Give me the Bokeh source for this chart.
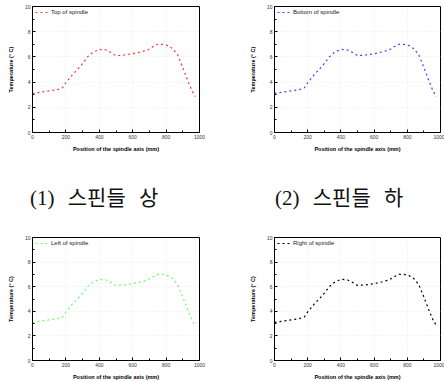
from bokeh.plotting import figure
from bokeh.layouts import column, row
from bokeh.models import FixedTicker, Div, Range1d
from bokeh.embed import file_html
from bokeh.resources import INLINE

# ---- data ----
position = [0, 50, 100, 150, 180, 200, 240, 290, 330, 360, 400, 440, 470, 500,
            550, 600, 650, 690, 720, 750, 780, 810, 840, 870, 900, 930, 955, 975]
temp_top = [3.1, 3.2, 3.3, 3.4, 3.55, 3.95, 4.6, 5.3, 6.0, 6.35, 6.6, 6.55, 6.35, 6.1,
            6.15, 6.25, 6.4, 6.55, 6.8, 7.0, 7.0, 6.9, 6.65, 6.15, 5.15, 4.1, 3.3, 2.85]
temp_bottom = [3.1, 3.2, 3.3, 3.4, 3.55, 3.95, 4.6, 5.3, 6.0, 6.35, 6.6, 6.55, 6.35, 6.1,
               6.15, 6.25, 6.4, 6.55, 6.8, 7.0, 7.0, 6.9, 6.65, 6.15, 5.15, 4.1, 3.3, 2.85]
temp_left = [3.1, 3.2, 3.3, 3.4, 3.55, 3.95, 4.6, 5.3, 6.0, 6.35, 6.6, 6.55, 6.35, 6.1,
             6.15, 6.25, 6.4, 6.55, 6.8, 7.0, 7.0, 6.9, 6.65, 6.15, 5.15, 4.1, 3.3, 2.85]
temp_right = [3.1, 3.2, 3.3, 3.4, 3.55, 3.95, 4.6, 5.3, 6.0, 6.35, 6.6, 6.55, 6.35, 6.1,
              6.15, 6.25, 6.4, 6.55, 6.8, 7.0, 7.0, 6.9, 6.65, 6.15, 5.15, 4.1, 3.3, 2.85]
series_labels = ["Top of spindle", "Bottom of spindle", "Left of spindle", "Right of spindle"]
series_colors = ["#ff3333", "#4040ff", "#66ff66", "#000000"]
x_ticks = [0, 200, 400, 600, 800, 1000]
x_minor = [100, 300, 500, 700, 900]
y_ticks = [0, 2, 4, 6, 8, 10]
y_minor = [1, 3, 5, 7, 9]
captions = ["(1) 스핀들 상", "(2) 스핀들 하"]

FONT = "Liberation Sans"


def make_panel(xs, ys, label, color, width, height, bl, br, bt, bb):
    p = figure(width=width, height=height, output_backend="svg", toolbar_location=None,
               x_range=Range1d(0, 1000), y_range=Range1d(0, 10),
               min_border_left=bl, min_border_right=br, min_border_top=bt,
               min_border_bottom=bb)
    p.outline_line_color = "black"
    p.outline_line_width = 1
    p.background_fill_color = "white"
    p.border_fill_color = "white"
    p.line(xs, ys, line_color=color, line_width=1.2, line_dash="2 3", legend_label=label)

    p.xaxis.ticker = FixedTicker(ticks=x_ticks, minor_ticks=x_minor)
    p.yaxis.ticker = FixedTicker(ticks=y_ticks, minor_ticks=y_minor)
    for ax in (p.xaxis[0], p.yaxis[0]):
        ax.major_tick_in = 3
        ax.major_tick_out = 0
        ax.minor_tick_in = 2
        ax.minor_tick_out = 0
        ax.axis_line_color = "black"
        ax.major_tick_line_color = "black"
        ax.minor_tick_line_color = "black"
        ax.major_label_text_font = FONT
        ax.major_label_text_font_size = "5px"
        ax.major_label_text_color = "#333333"
        ax.major_label_standoff = 2
        ax.axis_label_text_font = FONT
        ax.axis_label_text_font_size = "5.5px"
        ax.axis_label_text_font_style = "bold"
        ax.axis_label_text_color = "black"
    p.xaxis.axis_label_standoff = 4
    p.yaxis.axis_label_standoff = 8
    p.xaxis.axis_label = "Position of the spindle axis (mm)"
    p.yaxis.axis_label = "Temperature (° C)"

    p.xgrid.ticker = FixedTicker(ticks=[200, 400, 600, 800])
    p.ygrid.ticker = FixedTicker(ticks=[2, 4, 6, 8])
    p.grid.grid_line_color = "#e2e2e2"
    p.grid.grid_line_dash = "1 2"
    p.grid.grid_line_width = 0.8

    lg = p.legend[0]
    lg.location = "top_left"
    lg.background_fill_alpha = 0
    lg.border_line_alpha = 0
    lg.label_text_font = FONT
    lg.label_text_font_size = "6px"
    lg.label_text_color = "#222222"
    lg.glyph_width = 13
    lg.glyph_height = 6
    lg.label_standoff = 3
    lg.padding = 0
    lg.margin = 3
    lg.spacing = 0
    lg.label_height = 6
    return p


top_h = 154
bot_h = 154
p1 = make_panel(position, temp_top, series_labels[0], series_colors[0], 222, top_h, 32, 23, 6, 22)
p2 = make_panel(position, temp_bottom, series_labels[1], series_colors[1], 222, top_h, 52, 4, 6, 22)
p3 = make_panel(position, temp_left, series_labels[2], series_colors[2], 222, bot_h, 32, 23, 9, 20)
p4 = make_panel(position, temp_right, series_labels[3], series_colors[3], 222, bot_h, 52, 4, 9, 20)

cap_style = ("position:absolute;top:34px;font-family:'Liberation Serif','Noto Sans CJK KR',serif;"
             "font-size:21px;white-space:pre;word-spacing:8px;color:#111;line-height:21px;")
cap_html = (f'<div style="position:relative;width:444px;height:74px;">'
            f'<span style="{cap_style}left:30px;">{captions[0]}</span>'
            f'<span style="{cap_style}left:275px;">{captions[1]}</span></div>')
caps = Div(text=cap_html, width=444, height=74, margin=0)

layout = column(row(p1, p2), caps, row(p3, p4))
open("out.html", "w").write(file_html(layout, INLINE))
